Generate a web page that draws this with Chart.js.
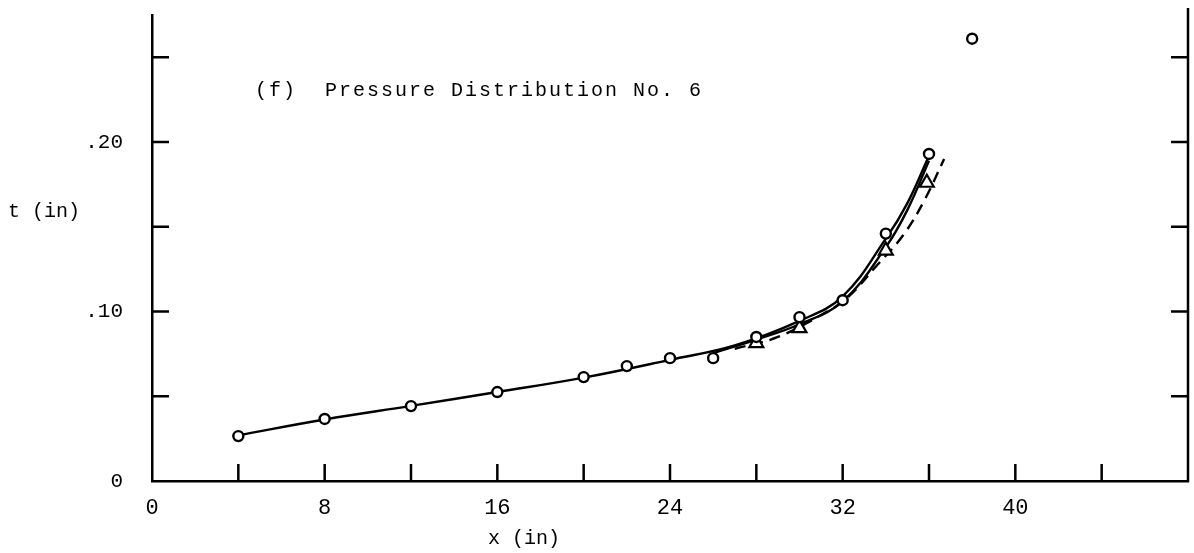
<!DOCTYPE html>
<html>
<head>
<meta charset="utf-8">
<title>Pressure Distribution No. 6</title>
<script src="https://cdn.jsdelivr.net/npm/chart.js@4.4.1/dist/chart.umd.min.js"></script>
<style>
  html, body { margin: 0; padding: 0; background: #fff; }
  #wrap { width: 1194px; height: 553px; position: relative; }
</style>
</head>
<body>
<div id="wrap"><canvas id="thickness"></canvas></div>
<script>
// measured thickness, circles and triangles (x in inches, t in inches)
const circleX = [4, 8, 12, 16, 20, 22, 24, 26, 28, 30, 32, 34, 36, 38];
const circleT = [0.0265, 0.0366, 0.0442, 0.0525, 0.0613, 0.0678, 0.0725, 0.0725, 0.085, 0.0967, 0.1067, 0.146, 0.193, 0.261];
const triangleX = [28, 30, 34, 35.9];
const triangleT = [0.0814, 0.0902, 0.136, 0.176];

// faired curves
const solidAX = [4, 8, 12, 16, 20, 24, 27, 30, 32, 34, 35, 36];
const solidAT = [0.027, 0.0363, 0.0443, 0.0525, 0.061, 0.0715, 0.080, 0.0945, 0.109, 0.143, 0.164, 0.192];
const solidBX = [26, 28, 30, 32, 34, 35, 36];
const solidBT = [0.0755, 0.0835, 0.0925, 0.106, 0.138, 0.160, 0.189];
const dashedX = [27, 29, 31, 32.2, 33.5, 34.8, 35.8, 36.7];
const dashedT = [0.078, 0.085, 0.098, 0.108, 0.126, 0.145, 0.166, 0.190];

// axis ticks and labels
const xTicks = [4, 8, 12, 16, 20, 24, 28, 32, 36, 40, 44];
const xLabels = [0, 8, 16, 24, 32, 40];
const yTicks = [0.05, 0.10, 0.15, 0.20, 0.25];
const yLabels = [0, 0.10, 0.20];

const typeFont = '"Liberation Mono", "DejaVu Sans Mono", monospace';
const pts = (xs, ys) => xs.map((x, i) => ({ x: x, y: ys[i] }));

const curve = {
    showLine: true,
    pointRadius: 0,
    borderColor: "#000",
    borderWidth: 2.4,
    tension: 0.4,
    order: 2,
};

// drop the label padding chart.js reserves at the axis ends
const noEndPadding = s => {
    s.paddingTop = 0;
    s.paddingBottom = 0;
    s.paddingLeft = 0;
    s.paddingRight = 0;
};

// inward tick marks on three sides, right frame line, free text
const axisMarks = {
    id: "axisMarks",
    beforeDatasetsDraw(chart) {
        const ctx = chart.ctx;
        const area = chart.chartArea;
        const xs = chart.scales.x;
        const ys = chart.scales.y;
        const len = 17;
        ctx.save();
        ctx.strokeStyle = "#000";
        ctx.lineWidth = 2.5;
        ctx.beginPath();
        ctx.moveTo(area.right, 8);
        ctx.lineTo(area.right, area.bottom + 1);
        xTicks.forEach(v => {
            const px = xs.getPixelForValue(v);
            ctx.moveTo(px, area.bottom);
            ctx.lineTo(px, area.bottom - len);
        });
        yTicks.forEach(v => {
            const py = ys.getPixelForValue(v);
            ctx.moveTo(area.left, py);
            ctx.lineTo(area.left + len, py);
            ctx.moveTo(area.right, py);
            ctx.lineTo(area.right - len, py);
        });
        ctx.stroke();
        ctx.restore();
    },
    afterDraw(chart) {
        const ctx = chart.ctx;
        ctx.save();
        ctx.fillStyle = "#000";
        ctx.font = "20px " + typeFont;
        ctx.textBaseline = "middle";
        ctx.textAlign = "left";
        ctx.letterSpacing = "2px";
        ctx.fillText("(f)  Pressure Distribution No. 6", 255, 91);
        ctx.letterSpacing = "0px";
        ctx.fillText("t (in)", 8, 212);
        ctx.fillText("x (in)", 488, 539);
        ctx.restore();
    },
};

const thickness_data = {
    datasets: [
        Object.assign({ data: pts(solidAX, solidAT) }, curve),
        Object.assign({ data: pts(solidBX, solidBT) }, curve),
        Object.assign({ data: pts(dashedX, dashedT), borderDash: [11, 7] }, curve),
        {
            data: pts(circleX, circleT),
            pointStyle: "circle",
            pointRadius: 5,
            pointBorderWidth: 2.4,
            pointBorderColor: "#000",
            pointBackgroundColor: "#fff",
            order: 1,
        },
        {
            data: pts(triangleX, triangleT),
            pointStyle: "triangle",
            pointRadius: 8,
            pointBorderWidth: 2.2,
            pointBorderColor: "#000",
            pointBackgroundColor: "#fff",
            order: 1,
        },
    ],
};

var config_thickness = {
    type: "scatter",
    data: thickness_data,
    plugins: [axisMarks],
    options: {
        responsive: true,
        maintainAspectRatio: false,
        animation: false,
        layout: { autoPadding: false, padding: { top: 15, right: 6, left: 0, bottom: 0 } },
        plugins: {
            legend: { display: false },
            tooltip: { enabled: false },
        },
        scales: {
            x: {
                type: "linear",
                min: 0,
                max: 48,
                afterFit: s => { s.height = 72; noEndPadding(s); },
                afterBuildTicks: s => { s.ticks = xLabels.map(v => ({ value: v })); },
                grid: { drawOnChartArea: false, drawTicks: false },
                border: { color: "#000", width: 2.5 },
                ticks: {
                    color: "#000",
                    padding: 14,
                    maxRotation: 0,
                    font: { family: typeFont, size: 22 },
                },
            },
            y: {
                type: "linear",
                min: 0,
                max: 0.275,
                afterFit: s => { s.width = 152; noEndPadding(s); },
                afterBuildTicks: s => { s.ticks = yLabels.map(v => ({ value: v })); },
                grid: { drawOnChartArea: false, drawTicks: false },
                border: { color: "#000", width: 2.5 },
                ticks: {
                    color: "#000",
                    padding: 29,
                    font: { family: typeFont, size: 21 },
                    callback: v => v === 0 ? "0" : "." + Math.round(v * 100),
                },
            },
        },
    },
};

const thicknesschart = document.getElementById("thickness").getContext("2d");
const mychart = new Chart(thicknesschart, config_thickness);
</script>
</body>
</html>
